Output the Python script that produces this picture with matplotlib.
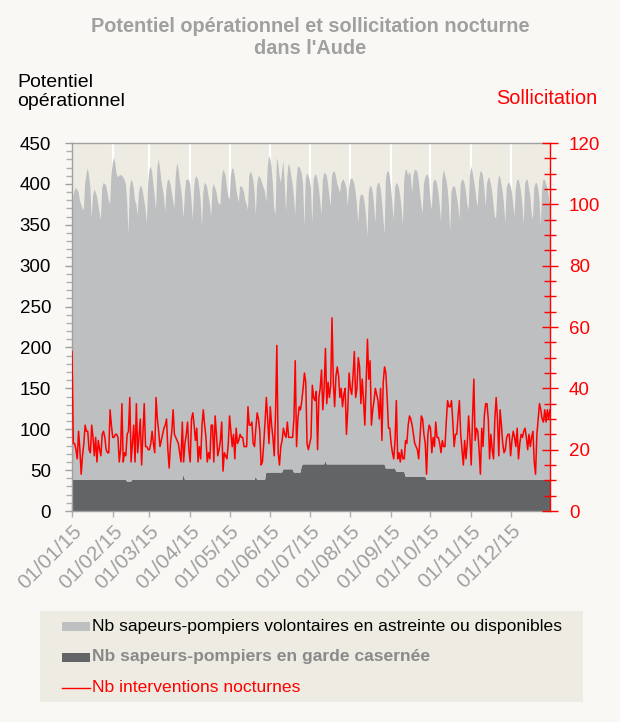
import matplotlib
matplotlib.use('Agg')
import matplotlib.pyplot as plt
import matplotlib.dates as mdates
from matplotlib.ticker import MultipleLocator
from matplotlib.patches import Rectangle
from matplotlib.lines import Line2D
import numpy as np
import pandas as pd

plt.rcParams['font.family'] = ['Liberation Sans', 'DejaVu Sans']

# ---------------- DATA (daily values, 2015) ----------------
start_date = '2015-01-01'
end_date = '2015-12-31'

# Top of the grey area: total operational potential (garde + volontaires)
potentiel_total = [
    352, 385, 392, 395, 393, 390, 380, 375, 370, 368,
    400, 412, 419, 410, 395, 358, 385, 393, 390, 385,
    375, 365, 356, 395, 401, 400, 398, 390, 380, 375,
    410, 425, 432, 425, 412, 408, 410, 411, 410, 408,
    405, 400, 380, 338, 395, 405, 403, 395, 380, 375,
    362, 390, 397, 397, 390, 380, 370, 352, 400, 418,
    421, 415, 400, 385, 368, 420, 430, 420, 405, 395,
    385, 366, 395, 405, 405, 400, 390, 380, 370, 410,
    425, 420, 405, 395, 380, 358, 390, 405, 405, 405,
    400, 380, 356, 395, 408, 409, 405, 395, 380, 348,
    390, 401, 400, 395, 385, 375, 360, 395, 400, 395,
    390, 380, 375, 375, 405, 417, 415, 410, 395, 385,
    381, 410, 419, 418, 410, 395, 385, 377, 397, 397,
    395, 390, 380, 375, 368, 410, 415, 412, 405, 390,
    362, 400, 409, 409, 405, 400, 395, 390, 377, 420,
    434, 430, 420, 400, 370, 362, 432, 425, 410, 401,
    415, 428, 400, 366, 410, 425, 420, 410, 400, 385,
    362, 405, 421, 421, 418, 412, 400, 348, 405, 413,
    410, 405, 395, 352, 405, 411, 411, 405, 395, 380,
    362, 405, 413, 413, 410, 400, 385, 373, 410, 415,
    415, 410, 400, 395, 389, 400, 405, 405, 400, 395,
    373, 395, 405, 407, 405, 400, 390, 375, 352, 380,
    387, 387, 385, 375, 360, 336, 390, 397, 397, 390,
    375, 352, 395, 401, 401, 395, 380, 360, 338, 405,
    415, 415, 410, 395, 375, 356, 395, 401, 400, 395,
    385, 370, 350, 405, 417, 417, 410, 415, 410, 389,
    410, 417, 417, 415, 405, 390, 375, 364, 400, 408,
    411, 411, 405, 380, 368, 400, 405, 405, 400, 390,
    375, 354, 405, 417, 412, 405, 395, 375, 342, 390,
    397, 397, 395, 385, 375, 356, 400, 405, 405, 400,
    390, 375, 368, 410, 421, 415, 405, 395, 380, 372,
    405, 415, 415, 410, 395, 372, 400, 407, 407, 400,
    390, 375, 360, 358, 395, 409, 409, 400, 390, 375,
    352, 395, 401, 401, 398, 390, 375, 360, 395, 405,
    405, 400, 390, 375, 350, 400, 405, 405, 395, 385,
    365, 356, 395, 401, 401, 395, 380, 348, 395, 405,
    405, 400, 395, 385, 372,
]

garde_casernee = [
    38, 38, 38, 38, 38, 38, 38, 38, 38, 38,
    38, 38, 38, 38, 38, 38, 38, 38, 38, 38,
    38, 38, 38, 38, 38, 38, 38, 38, 38, 38,
    38, 38, 38, 38, 38, 38, 38, 38, 38, 38,
    38, 38, 36, 36, 36, 36, 38, 38, 38, 38,
    38, 38, 38, 38, 38, 38, 38, 38, 38, 38,
    38, 38, 38, 38, 38, 38, 38, 38, 38, 38,
    38, 38, 38, 38, 38, 38, 38, 38, 38, 38,
    38, 38, 38, 38, 38, 44, 38, 38, 38, 38,
    38, 38, 38, 38, 38, 38, 38, 38, 38, 38,
    38, 38, 38, 38, 38, 38, 38, 38, 38, 38,
    38, 38, 38, 38, 38, 38, 38, 38, 38, 38,
    38, 38, 38, 38, 38, 38, 38, 38, 38, 38,
    38, 38, 38, 38, 38, 38, 38, 38, 38, 38,
    42, 38, 38, 38, 38, 38, 38, 38, 47, 47,
    47, 47, 47, 47, 47, 47, 47, 47, 47, 47,
    47, 51, 51, 51, 51, 51, 51, 51, 51, 47,
    47, 47, 47, 47, 47, 55, 57, 57, 57, 57,
    57, 57, 57, 57, 57, 57, 57, 57, 57, 57,
    57, 57, 57, 61, 57, 57, 57, 57, 57, 57,
    57, 57, 57, 57, 57, 57, 57, 57, 57, 57,
    57, 57, 57, 57, 57, 57, 57, 57, 57, 57,
    57, 57, 57, 57, 57, 57, 57, 57, 57, 57,
    57, 57, 57, 57, 57, 57, 57, 57, 57, 52,
    52, 52, 52, 52, 52, 52, 52, 48, 48, 48,
    48, 48, 48, 48, 42, 42, 42, 42, 42, 42,
    42, 42, 42, 42, 42, 42, 42, 42, 42, 42,
    38, 38, 38, 38, 38, 38, 38, 38, 38, 38,
    38, 38, 38, 38, 38, 38, 38, 38, 38, 38,
    38, 38, 38, 38, 38, 38, 38, 38, 38, 38,
    38, 38, 38, 38, 38, 38, 38, 38, 38, 38,
    38, 38, 38, 38, 38, 38, 38, 38, 38, 38,
    38, 38, 38, 38, 38, 38, 38, 38, 38, 38,
    38, 38, 38, 38, 38, 38, 38, 38, 38, 38,
    38, 38, 38, 38, 38, 38, 38, 38, 38, 38,
    38, 38, 38, 38, 38, 38, 38, 38, 38, 38,
    38, 38, 38, 38, 38,
]

interventions_nocturnes = [
    52, 22, 22, 20, 17, 26, 20, 12, 18, 22,
    28, 26, 26, 20, 19, 28, 24, 18, 24, 16,
    23, 20, 18, 25, 26, 24, 20, 19, 19, 33,
    28, 24, 24, 25, 25, 24, 16, 20, 35, 16,
    19, 18, 25, 26, 37, 16, 22, 28, 16, 35,
    19, 24, 30, 15, 25, 35, 21, 21, 20, 20,
    22, 26, 22, 19, 37, 30, 26, 21, 23, 25,
    27, 28, 30, 20, 14, 22, 26, 33, 25, 24,
    23, 22, 19, 16, 29, 16, 22, 25, 29, 20,
    16, 30, 32, 28, 23, 27, 16, 21, 17, 28,
    33, 28, 24, 16, 19, 17, 28, 28, 16, 31,
    25, 18, 20, 23, 29, 13, 19, 18, 17, 22,
    31, 26, 21, 25, 17, 27, 22, 23, 25, 24,
    24, 21, 21, 21, 34, 28, 28, 29, 22, 21,
    27, 32, 30, 26, 15, 16, 22, 29, 37, 30,
    22, 34, 28, 24, 18, 32, 54, 19, 15, 21,
    23, 27, 25, 24, 29, 24, 24, 24, 24, 30,
    49, 21, 30, 34, 33, 36, 40, 45, 42, 22,
    20, 22, 24, 41, 37, 36, 39, 20, 37, 40,
    46, 33, 40, 53, 35, 42, 37, 41, 63, 42,
    34, 44, 47, 44, 37, 40, 34, 38, 40, 25,
    33, 45, 40, 38, 44, 52, 37, 40, 50, 47,
    35, 43, 36, 28, 42, 56, 43, 49, 28, 33,
    36, 40, 38, 36, 30, 40, 23, 42, 47, 45,
    37, 27, 27, 22, 19, 17, 23, 36, 17, 19,
    16, 20, 17, 17, 23, 22, 28, 31, 30, 28,
    25, 22, 21, 20, 17, 24, 31, 30, 25, 22,
    12, 25, 28, 27, 19, 24, 21, 29, 24, 24,
    22, 19, 23, 21, 21, 29, 36, 34, 34, 36,
    29, 21, 25, 25, 31, 36, 25, 20, 15, 23,
    17, 22, 31, 24, 15, 30, 43, 23, 27, 26,
    20, 12, 27, 21, 31, 35, 35, 30, 17, 25,
    20, 17, 30, 37, 30, 18, 33, 28, 22, 19,
    20, 24, 25, 25, 18, 23, 26, 24, 21, 27,
    17, 22, 25, 24, 26, 27, 24, 20, 25, 21,
    24, 26, 16, 12, 25, 30, 35, 33, 30, 29,
    33, 29, 33, 30, 33,
]

month_labels = ['01/01/15', '01/02/15', '01/03/15', '01/04/15', '01/05/15', '01/06/15',
                '01/07/15', '01/08/15', '01/09/15', '01/10/15', '01/11/15', '01/12/15']
left_ticks = [0, 50, 100, 150, 200, 250, 300, 350, 400, 450]
right_ticks = [0, 20, 40, 60, 80, 100, 120]

title_text = "Potentiel opérationnel et sollicitation nocturne\ndans l'Aude"
left_label = "Potentiel\nopérationnel"
right_label = "Sollicitation"
legend_labels = ["Nb sapeurs-pompiers volontaires en astreinte ou disponibles",
                 "Nb sapeurs-pompiers en garde casernée",
                 "Nb interventions nocturnes"]

# ---------------- STYLE ----------------
FIG_BG = '#f9f8f5'
PLOT_BG = '#eeece2'
LIGHT = '#bebfc1'
DARK = '#636466'
RED = '#ff0000'
GREY_TXT = '#a0a0a0'

W, H = 620, 722
def fx(px):
    return px / W
def fy(py):
    return 1 - py / H

dates = pd.date_range(start_date, end_date, freq='D')
total = np.array(potentiel_total, dtype=float)
garde = np.array(garde_casernee, dtype=float)
volontaires = total - garde
interv = np.array(interventions_nocturnes, dtype=float)
month_starts = pd.date_range(start_date, end_date, freq='MS')

fig = plt.figure(figsize=(W / 100, H / 100), dpi=100, facecolor=FIG_BG)
ax = fig.add_axes([fx(72), fy(511), fx(550) - fx(72), fy(143) - fy(511)])
ax.set_facecolor(PLOT_BG)

for m in month_starts:
    ax.axvline(m, color='white', lw=1.6, zorder=1)

ax.stackplot(dates, garde, volontaires, colors=[DARK, LIGHT], lw=0, zorder=2)
ax.set_xlim(dates[0], dates[-1])
ax.set_ylim(0, 450)
ax.set_yticks(left_ticks)
ax.yaxis.set_minor_locator(MultipleLocator(10))
ax.set_xticks(month_starts)
ax.set_xticklabels(month_labels, rotation=45, ha='right', rotation_mode='anchor')

for s in ['left', 'bottom', 'top']:
    ax.spines[s].set_color('#a0a0a0')
    ax.spines[s].set_linewidth(1.0)
ax.spines['right'].set_visible(False)

ax.tick_params(axis='y', which='major', direction='out', length=5, width=1,
               color='#a0a0a0', labelsize=13.5, labelcolor='black', pad=10)
ax.tick_params(axis='y', which='minor', direction='out', length=4, width=1, color='#b0b0b0')
ax.tick_params(axis='x', which='major', direction='inout', length=9, width=1,
               color='#b0b0b0', labelsize=15, labelcolor=GREY_TXT, pad=3)

ax2 = ax.twinx()
ax2.plot(dates, interv, color=RED, lw=1.1, zorder=3)
ax2.set_ylim(0, 120)
ax2.set_yticks(right_ticks)
ax2.yaxis.set_minor_locator(MultipleLocator(5))
for s in ['left', 'bottom', 'top']:
    ax2.spines[s].set_visible(False)
ax2.spines['right'].set_color(RED)
ax2.spines['right'].set_linewidth(1.0)
ax2.tick_params(axis='y', which='major', direction='inout', length=11, width=1,
                color=RED, labelsize=13.5, labelcolor=RED, pad=8)
ax2.tick_params(axis='y', which='minor', direction='inout', length=9, width=1, color=RED)

# Titles / axis labels
fig.text(0.5, fy(38), title_text, ha='center', va='center', fontsize=14.3,
         fontweight='bold', color='#a0a0a0', linespacing=1.2)
fig.text(fx(17), fy(92), left_label, ha='left', va='center', fontsize=14,
         color='black', linespacing=1.2)
fig.text(fx(597), fy(99), right_label, ha='right', va='center', fontsize=14.3, color=RED)

# Legend box (manual)
fig.patches.append(Rectangle((fx(40), fy(702)), fx(583) - fx(40), fy(611) - fy(702),
                             transform=fig.transFigure, facecolor=PLOT_BG,
                             edgecolor='none', zorder=0))
rows_y = [626, 657, 688]
fig.patches.append(Rectangle((fx(62), fy(rows_y[0] + 4.5)), fx(90) - fx(62), 9 / H,
                             transform=fig.transFigure, facecolor=LIGHT, edgecolor='none'))
fig.patches.append(Rectangle((fx(62), fy(rows_y[1] + 4.5)), fx(90) - fx(62), 9 / H,
                             transform=fig.transFigure, facecolor=DARK, edgecolor='none'))
fig.lines.append(Line2D([fx(62), fx(90)], [fy(rows_y[2]), fy(rows_y[2])],
                        transform=fig.transFigure, color=RED, lw=1.0))
fig.text(fx(92), fy(rows_y[0]), legend_labels[0], ha='left', va='center',
         fontsize=12.6, color='black')
fig.text(fx(92), fy(rows_y[1]), legend_labels[1], ha='left', va='center',
         fontsize=12.6, color='#8a8a8a', fontweight='bold')
fig.text(fx(92), fy(rows_y[2]), legend_labels[2], ha='left', va='center',
         fontsize=12.6, color=RED)

fig.savefig('out.png', dpi=100, facecolor=FIG_BG)
